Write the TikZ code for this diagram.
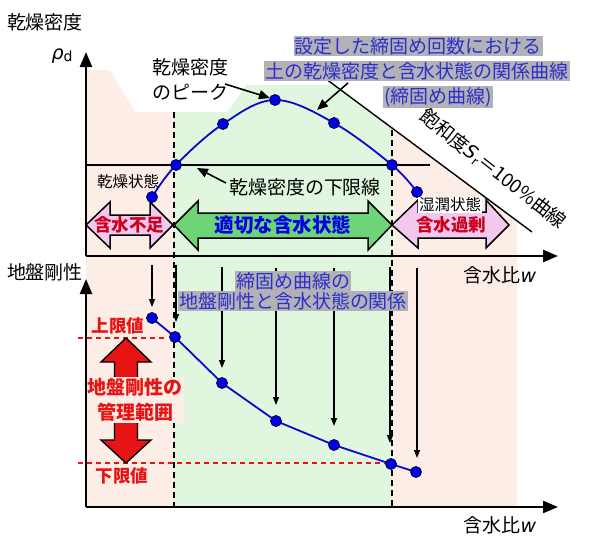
\documentclass[tikz,border=0pt]{standalone}
\usepackage{fontspec}
\setmainfont{Noto Sans CJK JP}
\newfontfamily\lat{DejaVu Sans}
\usetikzlibrary{arrows.meta}
\definecolor{pinkbg}{RGB}{252,237,230}
\definecolor{greenbg}{RGB}{225,246,222}
\definecolor{curveblue}{RGB}{10,10,200}
\definecolor{dotblue}{RGB}{0,0,230}
\definecolor{lblblue}{RGB}{45,45,205}
\definecolor{hlgray}{RGB}{178,178,182}
\definecolor{arrgreen}{RGB}{110,212,120}
\definecolor{arrpink}{RGB}{242,200,238}
\definecolor{darkred}{RGB}{205,0,30}
\definecolor{brightred}{RGB}{232,20,20}
\tikzset{
  t19/.style={font=\fontsize{19}{25}\selectfont, inner sep=0pt},
  t17b/.style={font=\fontsize{17.5}{22}\selectfont\bfseries, inner sep=0pt},
  t16/.style={font=\fontsize{15.5}{20}\selectfont, inner sep=0pt},
  hl/.style={t19, fill=hlgray, text=lblblue, inner sep=1pt},
  dot/.style={circle, fill=dotblue, draw=black!70!blue, line width=0.8pt, inner sep=0pt, minimum size=11pt},
  vline/.style={dash pattern=on 6pt off 4pt, line width=1.8pt},
  pointer/.style={line width=1.6pt, -{Triangle[length=11pt,width=9pt]}},
  droparrow/.style={line width=1.4pt, -{Triangle[length=8pt,width=6pt]}},
  axis/.style={line width=2.4pt, -{Triangle[length=15pt,width=12pt]}},
  blockarrow/.style={draw=black, line width=1.5pt, line join=miter},
  reddash/.style={draw=brightred, line width=1.3pt, dash pattern=on 5pt off 4pt}
}
\begin{document}
\begin{tikzpicture}[x=1pt,y=-1pt]
\useasboundingbox (0,0) rectangle (590,538);
% backgrounds
\fill[pinkbg] (86,70) -- (110,70) -- (135,112) -- (174,112) -- (174,507) -- (86,507) -- cycle;
\fill[greenbg] (174,112) -- (228,112) -- (246,85) -- (334.4,85) -- (392,127.8) -- (392,507) -- (174,507) -- cycle;
\fill[pinkbg] (392,127.8) -- (517,220.8) -- (517,507) -- (392,507) -- cycle;
% saturation line
\coordinate (s1) at (322,76);
\coordinate (s2) at (532,232);
\draw[line width=1.4pt] (s1) -- (s2);
% lower-limit horizontal line
\coordinate (h1) at (86,165);
\coordinate (h2) at (430,165);
\draw[line width=2pt] (h1) -- (h2);
% block arrows
\draw[blockarrow, fill=arrpink] (86,225) -- (110,202) -- (110,215) -- (150,215) -- (150,202) -- (173,225) -- (150,248) -- (150,235) -- (110,235) -- (110,248) -- cycle;
\draw[blockarrow, fill=arrgreen] (174,225) -- (198,201) -- (198,213) -- (368,213) -- (368,201) -- (392,225) -- (368,250) -- (368,238) -- (198,238) -- (198,250) -- cycle;
\draw[blockarrow, fill=arrpink] (392,225) -- (418,200) -- (418,212) -- (486,212) -- (486,200) -- (509,225) -- (486,248) -- (486,238) -- (418,238) -- (418,248) -- cycle;
\node[t17b, text=darkred] (lack) at (129,225) {含水不足};
\node[font=\fontsize{19.5}{24}\selectfont\bfseries, inner sep=0pt, text=blue!90!black] (ok) at (283,225) {適切な含水状態};
\node[t17b, text=darkred] (excess) at (451,225) {含水過剰};
% dashed verticals
\coordinate (d1t) at (174,112); \coordinate (d1b) at (174,507);
\coordinate (d2t) at (392,130); \coordinate (d2b) at (392,507);
\draw[vline] (d1t) -- (d1b);
\draw[vline] (d2t) -- (d2b);
% axes
\coordinate (o1) at (86,256);
\coordinate (ytop1) at (86,52);
\coordinate (xend1) at (558,256);
\draw[axis] (o1) -- (ytop1);
\draw[axis] (86,256) -- (xend1);
\coordinate (o2) at (86,507);
\coordinate (ytop2) at (86,279);
\coordinate (xend2) at (558,507);
\draw[axis] (o2) -- (ytop2);
\draw[axis] (86,507) -- (xend2);
% compaction curve
\draw[curveblue, line width=1.8pt] plot[smooth, tension=0.6] coordinates {(152,197) (176,165) (223,124) (275,100) (334,123) (392,165) (417,192)};
\node[dot] (p1) at (152,197) {};
\node[dot] (p2) at (176,165) {};
\node[dot] (p3) at (223,124) {};
\node[dot] (p4) at (275,100) {};
\node[dot] (p5) at (334,123) {};
\node[dot] (p6) at (392,165) {};
\node[dot] (p7) at (417,192) {};
% lower curve
\draw[curveblue, line width=1.8pt] (152,318) -- (175,337) -- (222,383) -- (276,421) -- (334,445) -- (391,464) -- (416,472);
% red management range
\draw[reddash] (78,338) -- (165,338);
\draw[reddash] (78,463) -- (385,463);
\draw[blockarrow, fill=brightred, line width=1.4pt] (126,338) -- (151,362) -- (137.5,362) -- (137.5,440) -- (151,440) -- (126,463) -- (101,440) -- (114.5,440) -- (114.5,362) -- (101,362) -- cycle;
\node[font=\fontsize{19}{25}\selectfont\bfseries, text=brightred, fill=pinkbg, inner sep=1pt, align=center] (range) at (135,400) {地盤剛性の\\管理範囲};
\node[t17b, text=brightred] (upper) at (118,326) {上限値};
\node[t17b, text=brightred] (lower) at (122,476) {下限値};
\node[dot] (q1) at (152,318) {};
\node[dot] (q2) at (175,337) {};
\node[dot] (q3) at (222,383) {};
\node[dot] (q4) at (276,421) {};
\node[dot] (q5) at (334,445) {};
\node[dot] (q6) at (391,464) {};
\node[dot] (q7) at (416,472) {};
% drop arrows
\coordinate (a1) at (152,265); \coordinate (b1) at (152,307);
\coordinate (a2) at (176,265); \coordinate (b2) at (176,322);
\coordinate (a3) at (222,267); \coordinate (b3) at (222,368);
\coordinate (a4) at (276,268); \coordinate (b4) at (276,405);
\coordinate (a5) at (334,268); \coordinate (b5) at (334,426);
\coordinate (a6) at (390,267); \coordinate (b6) at (390,443);
\coordinate (a7) at (417,268); \coordinate (b7) at (417,458);
\foreach \i in {1,...,7} {\draw[droparrow] (a\i) -- (b\i);}
% labels
\node[t19] (ylab1) at (45,22) {乾燥密度};
\node[font=\fontsize{19}{24}\selectfont, inner sep=0pt] (rho) at (62,56) {{\lat\itshape ρ}{\lat\fontsize{14}{16}\selectfont\raisebox{-2pt}{d}}};
\node[t19] (ylab2) at (45,272) {地盤剛性};
\node[t19] (xlab1) at (500,275) {含水比{\lat\itshape w}};
\node[t19] (xlab2) at (500,525) {含水比{\lat\itshape w}};
\node[t19, align=center] (peak) at (190,79) {乾燥密度\\のピーク};
\coordinate (pk1) at (225,84);
\coordinate (pk2) at (270,98);
\draw[pointer] (pk1) -- (pk2);
\node[t19] (ll) at (305,187) {乾燥密度の下限線};
\coordinate (ll1) at (226,183);
\coordinate (ll2) at (197,168);
\draw[pointer] (ll1) -- (ll2);
\node[t16] (dry) at (128,182) {乾燥状態};
\node[t16, fill=white, inner sep=1pt] (wet) at (450,205) {湿潤状態};
\node[hl] (c1) at (418,46) {設定した締固め回数における};
\node[hl] (c2) at (417,71) {土の乾燥密度と含水状態の関係曲線};
\node[hl] (c3) at (438,97) {(締固め曲線)};
\coordinate (cp1) at (348,83);
\coordinate (cp2) at (317,110);
\draw[pointer] (cp1) -- (cp2);
\node[t19, rotate=-38] (sat) at (493,169) {飽和度{\lat\itshape S}{\lat\fontsize{12}{14}\selectfont\raisebox{-3pt}{r}}＝100\%曲線};
\node[hl] (m1) at (293,281) {締固め曲線の};
\node[hl] (m2) at (293,301) {地盤剛性と含水状態の関係};
\end{tikzpicture}
\end{document}
